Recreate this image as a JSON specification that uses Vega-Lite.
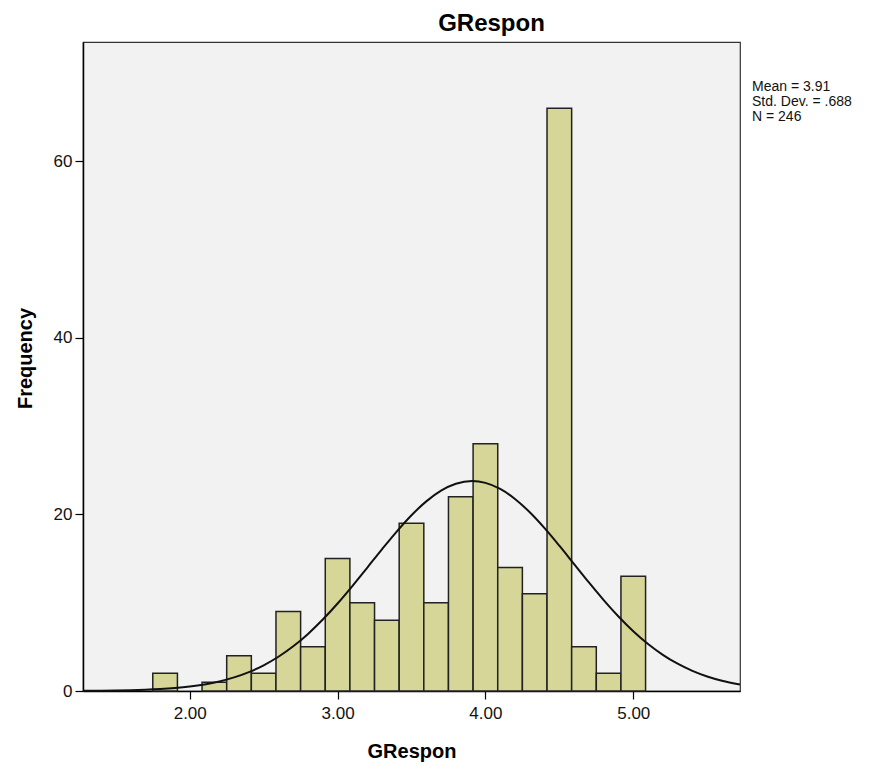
{
  "$schema": "https://vega.github.io/schema/vega-lite/v6.json",
  "width": 657,
  "height": 649,
  "autosize": {"type": "none"},
  "padding": {"left": 83, "top": 42, "right": 141, "bottom": 78},
  "background": "white",
  "view": {"fill": "#f2f2f2", "stroke": "#333333", "strokeWidth": 1.2},
  "title": {
    "text": "GRespon",
    "font": "Liberation Sans",
    "fontSize": 24,
    "fontWeight": "bold",
    "color": "#000000",
    "anchor": "middle",
    "frame": "group",
    "dx": 80,
    "dy": 25,
    "baseline": "bottom",
    "offset": 7
  },
  "config": {
    "axis": {
      "domainColor": "#000000",
      "domainWidth": 1.5,
      "tickColor": "#000000",
      "tickWidth": 1.2,
      "tickSize": 8,
      "grid": false,
      "labelFont": "Liberation Sans",
      "labelFontSize": 17,
      "labelColor": "#111111",
      "titleFont": "Liberation Sans",
      "titleFontSize": 20,
      "titleFontWeight": "bold",
      "titleColor": "#000000"
    }
  },
  "layer": [
    {
      "data": {
        "values": [
          {"bin_start": 1.75, "bin_end": 1.9167, "count": 2},
          {"bin_start": 2.0833, "bin_end": 2.25, "count": 1},
          {"bin_start": 2.25, "bin_end": 2.4167, "count": 4},
          {"bin_start": 2.4167, "bin_end": 2.5833, "count": 2},
          {"bin_start": 2.5833, "bin_end": 2.75, "count": 9},
          {"bin_start": 2.75, "bin_end": 2.9167, "count": 5},
          {"bin_start": 2.9167, "bin_end": 3.0833, "count": 15},
          {"bin_start": 3.0833, "bin_end": 3.25, "count": 10},
          {"bin_start": 3.25, "bin_end": 3.4167, "count": 8},
          {"bin_start": 3.4167, "bin_end": 3.5833, "count": 19},
          {"bin_start": 3.5833, "bin_end": 3.75, "count": 10},
          {"bin_start": 3.75, "bin_end": 3.9167, "count": 22},
          {"bin_start": 3.9167, "bin_end": 4.0833, "count": 28},
          {"bin_start": 4.0833, "bin_end": 4.25, "count": 14},
          {"bin_start": 4.25, "bin_end": 4.4167, "count": 11},
          {"bin_start": 4.4167, "bin_end": 4.5833, "count": 66},
          {"bin_start": 4.5833, "bin_end": 4.75, "count": 5},
          {"bin_start": 4.75, "bin_end": 4.9167, "count": 2},
          {"bin_start": 4.9167, "bin_end": 5.0833, "count": 13}
        ]
      },
      "mark": {"type": "rect", "fill": "#d5d697", "stroke": "#222222", "strokeWidth": 1.5},
      "encoding": {
        "x": {
          "field": "bin_start",
          "type": "quantitative",
          "scale": {"domain": [1.278, 5.722], "nice": false, "zero": false},
          "axis": {
            "title": "GRespon",
            "values": [2, 3, 4, 5],
            "format": ".2f",
            "labelPadding": 6,
            "titlePadding": 20
          }
        },
        "x2": {"field": "bin_end"},
        "y": {
          "field": "count",
          "type": "quantitative",
          "scale": {"domain": [0, 73.5], "nice": false},
          "axis": {
            "title": "Frequency",
            "values": [0, 20, 40, 60],
            "labelPadding": 3,
            "titleY": 316,
            "titleX": -58,
            "titleAngle": -90,
            "titleAlign": "center",
            "titleBaseline": "middle"
          }
        },
        "y2": {"datum": 0}
      }
    },
    {
      "data": {
        "values": [
          {"x": 1.278, "y": 0.016},
          {"x": 1.4, "y": 0.031},
          {"x": 1.5, "y": 0.052},
          {"x": 1.6, "y": 0.085},
          {"x": 1.7, "y": 0.137},
          {"x": 1.8, "y": 0.216},
          {"x": 1.9, "y": 0.333},
          {"x": 2.0, "y": 0.504},
          {"x": 2.1, "y": 0.747},
          {"x": 2.2, "y": 1.083},
          {"x": 2.3, "y": 1.538},
          {"x": 2.4, "y": 2.138},
          {"x": 2.5, "y": 2.911},
          {"x": 2.6, "y": 3.879},
          {"x": 2.7, "y": 5.062},
          {"x": 2.8, "y": 6.468},
          {"x": 2.9, "y": 8.093},
          {"x": 3.0, "y": 9.912},
          {"x": 3.1, "y": 11.886},
          {"x": 3.2, "y": 13.957},
          {"x": 3.3, "y": 16.045},
          {"x": 3.4, "y": 18.06},
          {"x": 3.5, "y": 19.903},
          {"x": 3.6, "y": 21.475},
          {"x": 3.7, "y": 22.688},
          {"x": 3.8, "y": 23.468},
          {"x": 3.91, "y": 23.77},
          {"x": 4.0, "y": 23.567},
          {"x": 4.1, "y": 22.881},
          {"x": 4.2, "y": 21.749},
          {"x": 4.3, "y": 20.242},
          {"x": 4.4, "y": 18.445},
          {"x": 4.5, "y": 16.457},
          {"x": 4.6, "y": 14.375},
          {"x": 4.7, "y": 12.295},
          {"x": 4.8, "y": 10.296},
          {"x": 4.9, "y": 8.441},
          {"x": 5.0, "y": 6.776},
          {"x": 5.1, "y": 5.325},
          {"x": 5.2, "y": 4.099},
          {"x": 5.3, "y": 3.088},
          {"x": 5.4, "y": 2.278},
          {"x": 5.5, "y": 1.645},
          {"x": 5.6, "y": 1.163},
          {"x": 5.722, "y": 0.741}
        ]
      },
      "mark": {"type": "line", "color": "#111111", "strokeWidth": 2, "interpolate": "monotone"},
      "encoding": {
        "x": {"field": "x", "type": "quantitative"},
        "y": {"field": "y", "type": "quantitative"}
      }
    },
    {
      "data": {
        "values": [
          {"lines": ["Mean = 3.91", "Std. Dev. = .688", "N = 246"]}
        ]
      },
      "mark": {
        "type": "text",
        "x": "width",
        "dx": 12,
        "y": 49,
        "align": "left",
        "baseline": "alphabetic",
        "font": "Liberation Sans",
        "fontSize": 14,
        "lineHeight": 15,
        "color": "#111111"
      },
      "encoding": {
        "text": {"field": "lines"}
      }
    }
  ]
}
